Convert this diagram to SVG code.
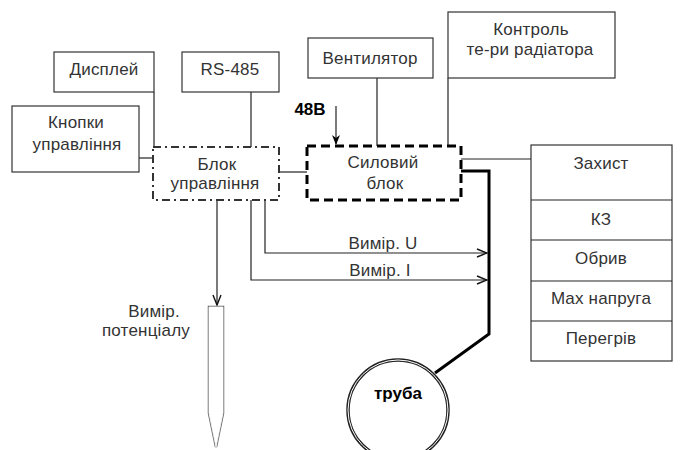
<svg xmlns="http://www.w3.org/2000/svg" width="688" height="450" viewBox="0 0 688 450">
<defs>
<style>
text{font-family:"Liberation Sans",Arial,sans-serif;font-size:17px;fill:#333;text-anchor:middle;letter-spacing:0.2px}
.b{font-weight:bold;fill:#000;letter-spacing:0}
.box{fill:#fff;stroke:#333;stroke-width:1.2}
.ln{fill:none;stroke:#222;stroke-width:1.2}
.thick{fill:none;stroke:#000;stroke-width:3}
</style>
<marker id="open" markerWidth="12" markerHeight="10" refX="11" refY="5" orient="auto" markerUnits="userSpaceOnUse">
<path d="M1,1 L11,5 L1,9" fill="none" stroke="#111" stroke-width="1.4"/>
</marker>
<marker id="solid" markerWidth="10" markerHeight="12" refX="9" refY="5" orient="auto" markerUnits="userSpaceOnUse">
<path d="M0,1 L10,5 L0,9 L3,5 Z" fill="#000"/>
</marker>
</defs>
<rect width="688" height="450" fill="#fff"/>
<g id="connectors">
<path class="ln" d="M154,92 V147"/>
<path class="ln" d="M251,92 V147"/>
<path class="ln" d="M139,158 H153"/>
<path class="ln" d="M279,172 H307"/>
<path class="ln" d="M377,78 V146"/>
<path class="ln" d="M448,78 V146"/>
<path class="ln" d="M461,159 H531"/>
<path class="ln" d="M336,106 V144" stroke-width="2" marker-end="url(#solid)"/>
<path class="ln" d="M265,200 V253 H487" marker-end="url(#open)"/>
<path class="ln" d="M251,200 V280 H487" marker-end="url(#open)"/>
<path class="ln" d="M217,200 V305" marker-end="url(#open)"/>
<path class="thick" d="M461,171 H489 V334 L435,373"/>
</g>
<g id="dysplei"><rect class="box" x="54" y="52" width="100" height="40"/><text x="104" y="75">Дисплей</text></g>
<g id="rs485"><rect class="box" x="182" y="52" width="97" height="40"/><text x="230" y="75">RS-485</text></g>
<g id="knopky"><rect class="box" x="12" y="106" width="127" height="66"/><text x="76" y="128">Кнопки</text><text x="77" y="150">управління</text></g>
<g id="blok-upr"><rect x="153" y="147" width="126" height="53" fill="#fff" stroke="#333" stroke-width="2" stroke-dasharray="8 4 2 4"/><text x="217" y="170">Блок</text><text x="215" y="189">управління</text></g>
<g id="ventyliator"><rect class="box" x="308" y="38" width="125" height="40"/><text x="370" y="64">Вентилятор</text></g>
<g id="kontrol"><rect class="box" x="448" y="12" width="167" height="66"/><text x="531" y="35">Контроль</text><text x="530" y="55">те-ри радіатора</text></g>
<g id="label-48v"><text class="b" x="310" y="115" font-size="16">48В</text></g>
<g id="sylovyi"><rect x="307" y="146" width="154" height="54" fill="#fff" stroke="#000" stroke-width="3" stroke-dasharray="9 5"/><text x="383" y="168">Силовий</text><text x="385" y="189">блок</text></g>
<g id="zakhyst">
<rect class="box" x="531" y="145" width="141" height="216"/>
<path class="ln" d="M531,200 H672 M531,240 H672 M531,281 H672 M531,321 H672"/>
<text x="601" y="169">Захист</text>
<text x="601" y="225">КЗ</text>
<text x="601" y="264">Обрив</text>
<text x="601" y="304">Max напруга</text>
<text x="601" y="344">Перегрів</text>
</g>
<g id="label-u"><text x="383" y="249">Вимір. U</text></g>
<g id="label-i"><text x="380" y="276">Вимір. I</text></g>
<g id="probe">
<path d="M209,307 H223 V413 L216,447 L209,413 Z" fill="#fff" stroke="#666" stroke-width="2.5"/>
<path d="M209,307 H223 V413 L216,447 L209,413 Z" fill="#fff" stroke="#fff" stroke-width="0.8"/>
<text x="154" y="317">Вимір.</text>
<text x="146" y="336">потенціалу</text>
</g>
<g id="truba">
<circle cx="398" cy="410" r="50" fill="#fff" stroke="#222" stroke-width="3.5"/>
<circle cx="398" cy="410" r="50" fill="none" stroke="#fff" stroke-width="1"/>
<text class="b" x="398" y="399">труба</text>
</g>
</svg>
